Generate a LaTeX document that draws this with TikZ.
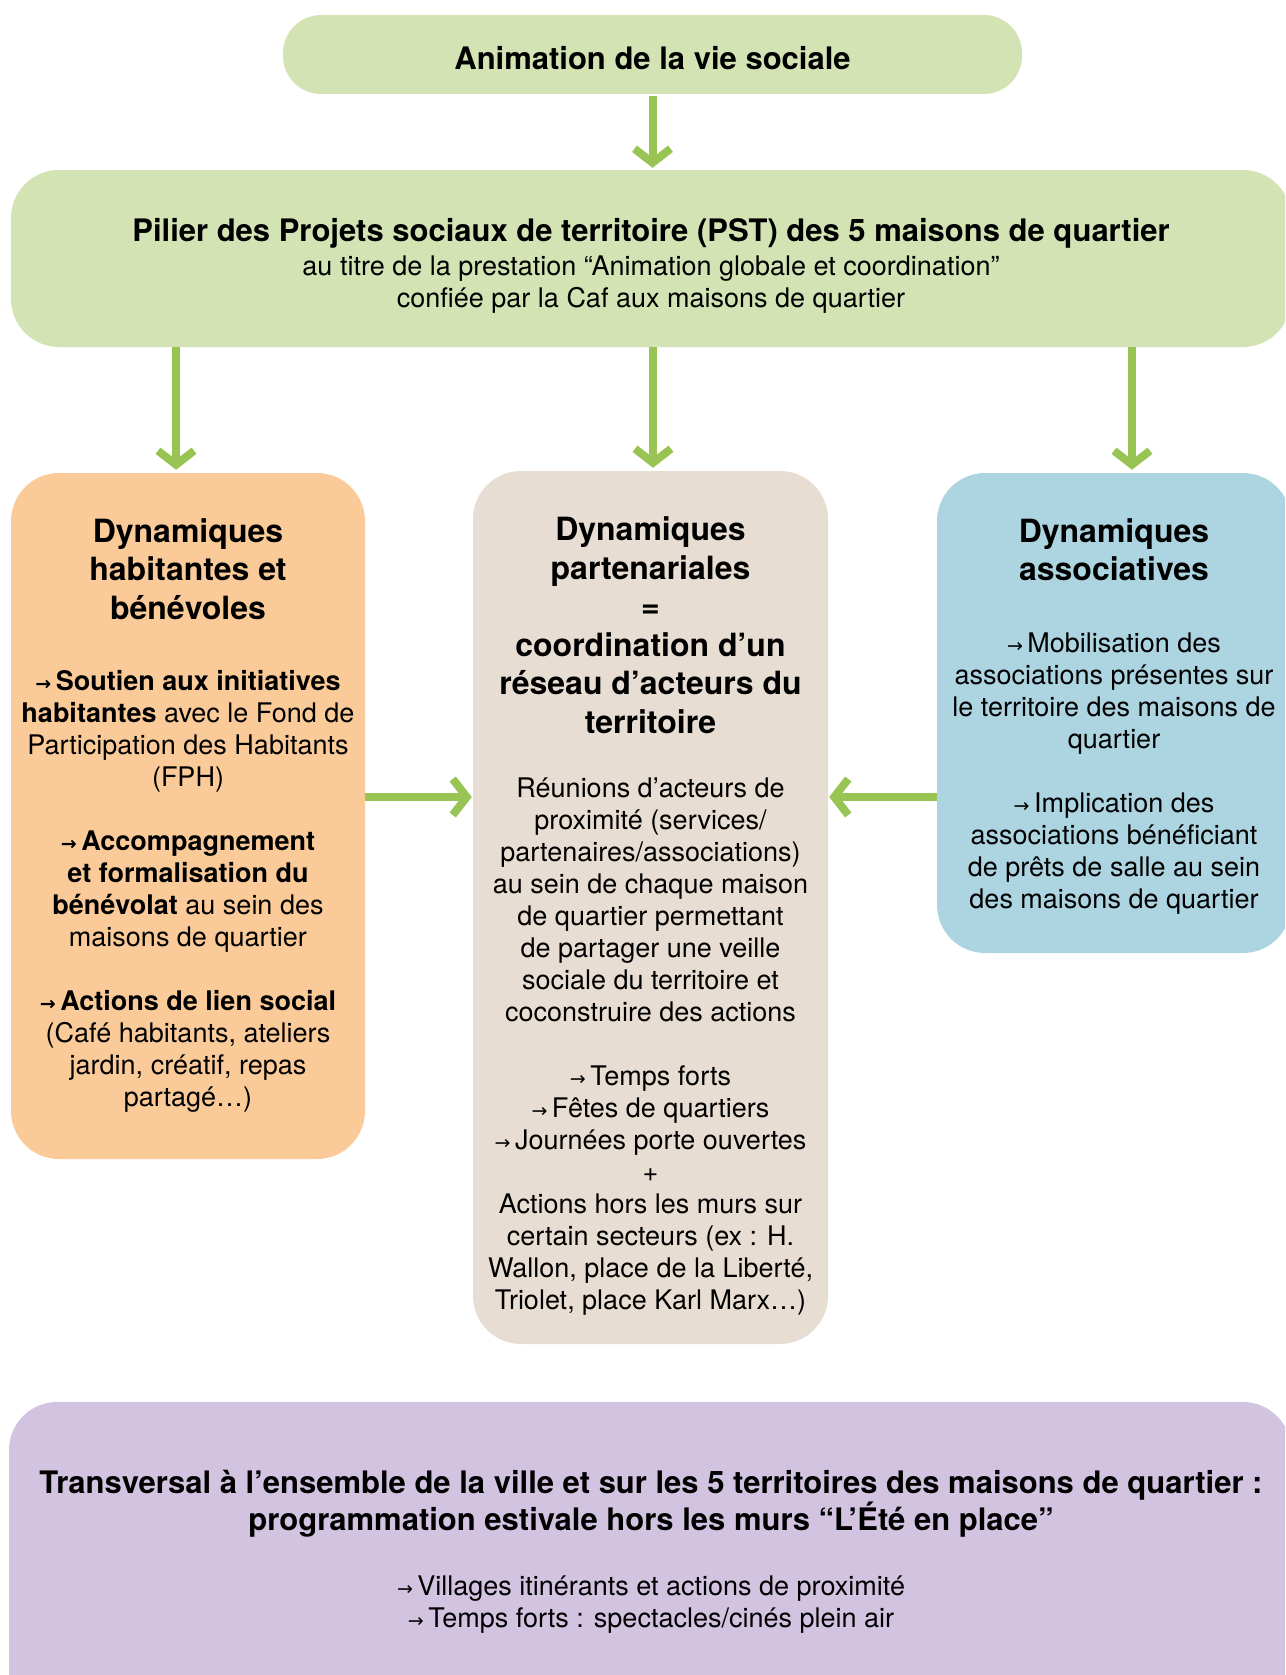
\documentclass[tikz,border=0pt]{standalone}
\usepackage{fontspec}
\setmainfont{TeX Gyre Heros}
\newfontfamily\symf{DejaVu Sans}
\usetikzlibrary{arrows.meta}
\definecolor{gbox}{RGB}{211,227,180}
\definecolor{garrow}{RGB}{152,196,83}
\definecolor{obox}{RGB}{250,203,152}
\definecolor{bbox}{RGB}{231,221,211}
\definecolor{blbox}{RGB}{173,213,225}
\definecolor{pbox}{RGB}{210,195,224}
\newcommand\myarr{{\symf\fontsize{19}{20}\selectfont →}\,}
\begin{document}
\begin{tikzpicture}[x=1pt,y=-1pt,
  box/.style={rounded corners=#1, inner sep=0pt, draw=none},
  box/.default=48pt,
  txt/.style={inner sep=0pt, align=center, anchor=north},
  ttl/.style={txt, font=\fontsize{32}{38.5}\selectfont\bfseries},
  bdy/.style={txt, font=\fontsize{27}{32}\selectfont},
  arr/.style={draw=garrow, line width=8pt, -{Straight Barb[length=14pt,width=36pt]}}]
\useasboundingbox (0,0) rectangle (1285,1675);
\clip (0,0) rectangle (1285,1675);
% boxes
\node[box=38pt, fill=gbox, minimum width=739pt, minimum height=79pt] (top) at (652.5,54.5) {};
\node[box, fill=gbox, minimum width=1280pt, minimum height=177pt] (pillar) at (651,258.5) {};
\node[box, fill=obox, minimum width=354pt, minimum height=686pt] (left) at (188,816) {};
\node[box, fill=bbox, minimum width=355pt, minimum height=873pt] (mid) at (650.5,907.5) {};
\node[box, fill=blbox, minimum width=354pt, minimum height=480pt] (right) at (1114,713) {};
\node[box, fill=pbox, minimum width=1282pt, minimum height=340pt] (bottom) at (650,1572) {};
% texts
\node[txt, font=\fontsize{31}{36}\selectfont\bfseries] (toptxt) at (652.5,46) {Animation de la vie sociale};
\node[bdy] (piltxt) at (651,218) {{\fontsize{31}{34}\selectfont\bfseries Pilier des Projets sociaux de territoire (PST) des 5 maisons de quartier}\\[2pt]
 au titre de la prestation “Animation globale et coordination”\\ confiée par la Caf aux maisons de quartier};
\node[ttl] (lefttitle) at (188,518) {Dynamiques\\ habitantes et\\ bénévoles};
\node[bdy] (leftbody) at (188,670) {%
 \textbf{\myarr Soutien aux initiatives}\\
 \textbf{habitantes} avec le Fond de\\
 Participation des Habitants\\
 (FPH)\\[32pt]
 \textbf{\myarr Accompagnement}\\
 \textbf{et formalisation du}\\
 \textbf{bénévolat} au sein des\\
 maisons de quartier\\[32pt]
 \textbf{\myarr Actions de lien social}\\
 (Café habitants, ateliers\\
 jardin, créatif, repas\\
 partagé…)};
\node[ttl] (midtitle) at (650.5,516.5) {Dynamiques\\ partenariales\\ =\\ coordination d’un\\ réseau d’acteurs du\\ territoire};
\node[bdy] (midbody) at (650.5,778) {%
 Réunions d’acteurs de\\
 proximité (services/\\
 partenaires/associations)\\
 au sein de chaque maison\\
 de quartier permettant\\
 de partager une veille\\
 sociale du territoire et\\
 coconstruire des actions\\[32pt]
 \myarr Temps forts\\
 \myarr Fêtes de quartiers\\
 \myarr Journées porte ouvertes\\
 +\\
 Actions hors les murs sur\\
 certain secteurs (ex : H.\\
 Wallon, place de la Liberté,\\
 Triolet, place Karl Marx…)};
\node[ttl] (righttitle) at (1114,518) {Dynamiques\\ associatives};
\node[bdy] (rightbody) at (1114,633) {%
 \myarr Mobilisation des\\
 associations présentes sur\\
 le territoire des maisons de\\
 quartier\\[32pt]
 \myarr Implication des\\
 associations bénéficiant\\
 de prêts de salle au sein\\
 des maisons de quartier};
\node[txt, font=\fontsize{31}{37}\selectfont\bfseries] (bottitle) at (651,1470) {Transversal à l’ensemble de la ville et sur les 5 territoires des maisons de quartier :\\
 programmation estivale hors les murs “L’Été en place”};
\node[bdy] (botbody) at (651,1576) {\myarr Villages itinérants et actions de proximité\\ \myarr Temps forts : spectacles/cinés plein air};
% arrows
\coordinate (hy) at (0,797);
\draw[arr, shorten <=2pt, shorten >=2pt] (top.south) -- (top.south |- pillar.north);
\draw[arr, shorten >=3pt] ([xshift=-12pt]left.north |- pillar.south) -- ([xshift=-12pt]left.north);
\draw[arr, shorten >=3pt] ([xshift=2.5pt]mid.north |- pillar.south) -- ([xshift=2.5pt]mid.north);
\draw[arr, shorten >=3pt] ([xshift=18pt]right.north |- pillar.south) -- ([xshift=18pt]right.north);
\draw[arr, shorten >=1pt] (left.east |- hy) -- (mid.west |- hy);
\draw[arr, shorten >=1pt] (right.west |- hy) -- (mid.east |- hy);
\end{tikzpicture}
\end{document}
